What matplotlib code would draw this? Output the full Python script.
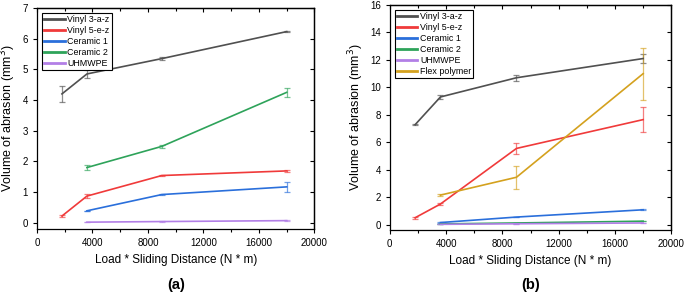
import matplotlib
matplotlib.use("Agg")
import matplotlib.pyplot as plt
from matplotlib.ticker import MultipleLocator
from matplotlib.lines import Line2D

plt.rcParams['font.family'] = ['Liberation Sans', 'DejaVu Sans']

names_a = ["Vinyl 3-a-z", "Vinyl 5-e-z", "Ceramic 1", "Ceramic 2", "UHMWPE"]
names_b = ["Vinyl 3-a-z", "Vinyl 5-e-z", "Ceramic 1", "Ceramic 2", "UHMWPE", "Flex polymer"]
colors = {"Vinyl 3-a-z": "#505050", "Vinyl 5-e-z": "#f03a3a", "Ceramic 1": "#2a6fdb",
          "Ceramic 2": "#2ea35a", "UHMWPE": "#b27fe6", "Flex polymer": "#d4a11e"}

# Panel (a)
x_a = {
    "Vinyl 3-a-z": [1800, 3600, 9000, 18000],
    "Vinyl 5-e-z": [1800, 3600, 9000, 18000],
    "Ceramic 1": [3600, 9000, 18000],
    "Ceramic 2": [3600, 9000, 18000],
    "UHMWPE": [3600, 9000, 18000],
}
y_a = {
    "Vinyl 3-a-z": [4.2, 4.85, 5.35, 6.23],
    "Vinyl 5-e-z": [0.22, 0.87, 1.54, 1.69],
    "Ceramic 1": [0.39, 0.92, 1.17],
    "Ceramic 2": [1.8, 2.49, 4.25],
    "UHMWPE": [0.02, 0.04, 0.07],
}
e_a = {
    "Vinyl 3-a-z": [0.26, 0.14, 0.05, 0.02],
    "Vinyl 5-e-z": [0.02, 0.06, 0.01, 0.02],
    "Ceramic 1": [0.01, 0.03, 0.17],
    "Ceramic 2": [0.07, 0.05, 0.15],
    "UHMWPE": [0.005, 0.005, 0.005],
}

# Panel (b)
x_b = {
    "Vinyl 3-a-z": [1800, 3600, 9000, 18000],
    "Vinyl 5-e-z": [1800, 3600, 9000, 18000],
    "Ceramic 1": [3600, 9000, 18000],
    "Ceramic 2": [3600, 9000, 18000],
    "UHMWPE": [3600, 9000, 18000],
    "Flex polymer": [3600, 9000, 18000],
}
y_b = {
    "Vinyl 3-a-z": [7.28, 9.3, 10.7, 12.1],
    "Vinyl 5-e-z": [0.5, 1.5, 5.55, 7.65],
    "Ceramic 1": [0.15, 0.55, 1.08],
    "Ceramic 2": [0.05, 0.12, 0.25],
    "UHMWPE": [0.02, 0.06, 0.12],
    "Flex polymer": [2.15, 3.45, 11.0],
}
e_b = {
    "Vinyl 3-a-z": [0.05, 0.15, 0.22, 0.3],
    "Vinyl 5-e-z": [0.07, 0.05, 0.4, 0.92],
    "Ceramic 1": [0.02, 0.02, 0.05],
    "Ceramic 2": [0.01, 0.01, 0.02],
    "UHMWPE": [0.01, 0.01, 0.01],
    "Flex polymer": [0.05, 0.82, 1.9],
}

fig = plt.figure(figsize=(6.85, 2.95), dpi=100)
ax1 = fig.add_axes([0.054, 0.224, 0.405, 0.749])
ax2 = fig.add_axes([0.569, 0.22, 0.411, 0.763])


def draw(ax, names, xs, ys, es, ylim, ymaj, tag):
    for n in names:
        c = colors[n]
        _, caps, bars = ax.errorbar(xs[n], ys[n], yerr=es[n], color=c, lw=1.2,
                                    elinewidth=0.9, capsize=2.2, capthick=0.9, ecolor=c)
        for b in bars:
            b.set_alpha(0.65)
        for cp in caps:
            cp.set_alpha(0.65)
    ax.set_xlim(0, 20000)
    ax.set_ylim(*ylim)
    ax.xaxis.set_major_locator(MultipleLocator(4000))
    ax.xaxis.set_minor_locator(MultipleLocator(2000))
    ax.yaxis.set_major_locator(MultipleLocator(ymaj))
    ax.tick_params(axis='both', which='both', labelsize=7, width=0.8, direction='out')
    ax.tick_params(axis='both', which='major', length=3)
    ax.tick_params(axis='both', which='minor', length=2)
    for sp in ax.spines.values():
        sp.set_linewidth(0.9)

    # inward ticks on top and right
    top = ax.secondary_xaxis('top')
    top.xaxis.set_major_locator(MultipleLocator(4000))
    top.xaxis.set_minor_locator(MultipleLocator(2000))
    top.tick_params(which='both', direction='in', labeltop=False, width=0.8)
    top.tick_params(which='major', length=3)
    top.tick_params(which='minor', length=2)
    right = ax.secondary_yaxis('right')
    right.yaxis.set_major_locator(MultipleLocator(ymaj))
    right.tick_params(which='both', direction='in', labelright=False, width=0.8, length=3)
    for s in (top, right):
        for sp in s.spines.values():
            sp.set_linewidth(0.9)

    ax.set_xlabel("Load * Sliding Distance (N * m)", fontsize=8.5, labelpad=4)
    ax.set_ylabel("Volume of abrasion (mm$^3$)", fontsize=9, labelpad=3)
    handles = [Line2D([], [], color=colors[n], lw=2.0) for n in names]
    leg = ax.legend(handles, names, loc='upper left', fontsize=6.4, frameon=True,
                    fancybox=False, edgecolor='black', handlelength=2.3,
                    handletextpad=0.3, borderpad=0.25, labelspacing=0.22,
                    borderaxespad=0.55, framealpha=1)
    leg.get_frame().set_linewidth(0.8)
    bb = ax.get_position()
    fig.text((bb.x0 + bb.x1) / 2, 0.034, tag, ha='center', va='center',
             fontsize=10.5, fontweight='bold')


draw(ax1, names_a, x_a, y_a, e_a, (-0.2, 7), 1, "(a)")
draw(ax2, names_b, x_b, y_b, e_b, (-0.4, 16), 2, "(b)")

fig.savefig("out.png", dpi=100)
